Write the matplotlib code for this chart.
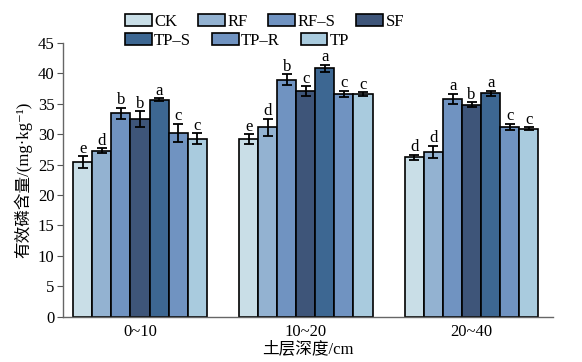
import matplotlib
matplotlib.use("Agg")
import matplotlib.pyplot as plt
import numpy as np

plt.rcParams['font.family'] = ['Liberation Serif', 'Noto Sans CJK SC', 'DejaVu Sans']

groups = ["0~10", "10~20", "20~40"]
treatments = ["CK", "RF", "RF-S", "SF", "TP-S", "TP-R", "TP"]
legend_labels = ["CK", "RF", "RF\u2013S", "SF", "TP\u2013S", "TP\u2013R", "TP"]
colors = ["#c9dee7", "#93b2d1", "#7093c1", "#3e5579", "#3d6792", "#7093c1", "#a9cbde"]

values = {
    "CK":   [25.4, 29.2, 26.2],
    "RF":   [27.3, 31.1, 27.1],
    "RF-S": [33.4, 38.9, 35.8],
    "SF":   [32.5, 37.1, 34.8],
    "TP-S": [35.6, 40.8, 36.7],
    "TP-R": [30.2, 36.6, 31.2],
    "TP":   [29.2, 36.6, 30.9],
}
errors = {
    "CK":   [1.0, 0.8, 0.4],
    "RF":   [0.4, 1.4, 1.0],
    "RF-S": [0.9, 0.9, 0.8],
    "SF":   [1.3, 0.8, 0.4],
    "TP-S": [0.25, 0.6, 0.4],
    "TP-R": [1.5, 0.5, 0.5],
    "TP":   [0.9, 0.3, 0.2],
}
letters = {
    "CK":   ["e", "e", "d"],
    "RF":   ["d", "d", "d"],
    "RF-S": ["b", "b", "a"],
    "SF":   ["b", "c", "b"],
    "TP-S": ["a", "a", "a"],
    "TP-R": ["c", "c", "c"],
    "TP":   ["c", "c", "c"],
}
yticks = list(range(0, 46, 5))

fig = plt.figure(figsize=(5.82, 3.62), dpi=100)
ax = fig.add_axes([0.108, 0.125, 0.842, 0.757])

x = np.arange(len(groups))
n = len(treatments)
w = 0.115
handles = []
for i, t in enumerate(treatments):
    pos = x + (i - (n - 1) / 2) * w
    b = ax.bar(pos, values[t], w, color=colors[i], edgecolor="black", linewidth=1.2,
               label=legend_labels[i], zorder=2)
    ax.errorbar(pos, values[t], yerr=errors[t], fmt="none", ecolor="black",
                elinewidth=1.3, capsize=3.5, capthick=1.3, zorder=3)
    for p, v, e, l in zip(pos, values[t], errors[t], letters[t]):
        ax.text(p, v + e - 0.1, l, ha="center", va="bottom", fontsize=12)
    handles.append(b)

ax.set_xlim(-0.465, 2.49)
ax.set_ylim(0, 45)
ax.set_yticks(yticks)
ax.set_xticks(x)
ax.set_xticklabels(groups, fontsize=12)
ax.tick_params(axis="y", labelsize=12, direction="out", length=4, color="#555555", pad=2)
ax.tick_params(axis="x", direction="in", length=3, color="#555555", pad=5)
for s in ["top", "right"]:
    ax.spines[s].set_visible(False)
for s in ["left", "bottom"]:
    ax.spines[s].set_color("#666666")
    ax.spines[s].set_linewidth(1.0)

ax.set_ylabel("有效磷含量/(mg·kg\u207b\u00b9)", fontsize=12, labelpad=4)
ax.set_xlabel("土层深度/cm", fontsize=12, labelpad=1)

# two independent legend rows (flow layout as in the reference)
legkw = dict(frameon=False, fontsize=12, handlelength=1.6, handleheight=0.75,
             columnspacing=1.25, handletextpad=0.15, borderpad=0.0, borderaxespad=0.0,
             loc="center left")
row1 = [0, 1, 2, 3]
row2 = [4, 5, 6]
leg1 = fig.legend([handles[k] for k in row1], [legend_labels[k] for k in row1],
                  ncol=4, bbox_to_anchor=(125 / 582, 1 - 22 / 362), **legkw)
leg2 = fig.legend([handles[k] for k in row2], [legend_labels[k] for k in row2],
                  ncol=3, bbox_to_anchor=(125 / 582, 1 - 41 / 362), **legkw)

fig.savefig("out.png", dpi=100)
